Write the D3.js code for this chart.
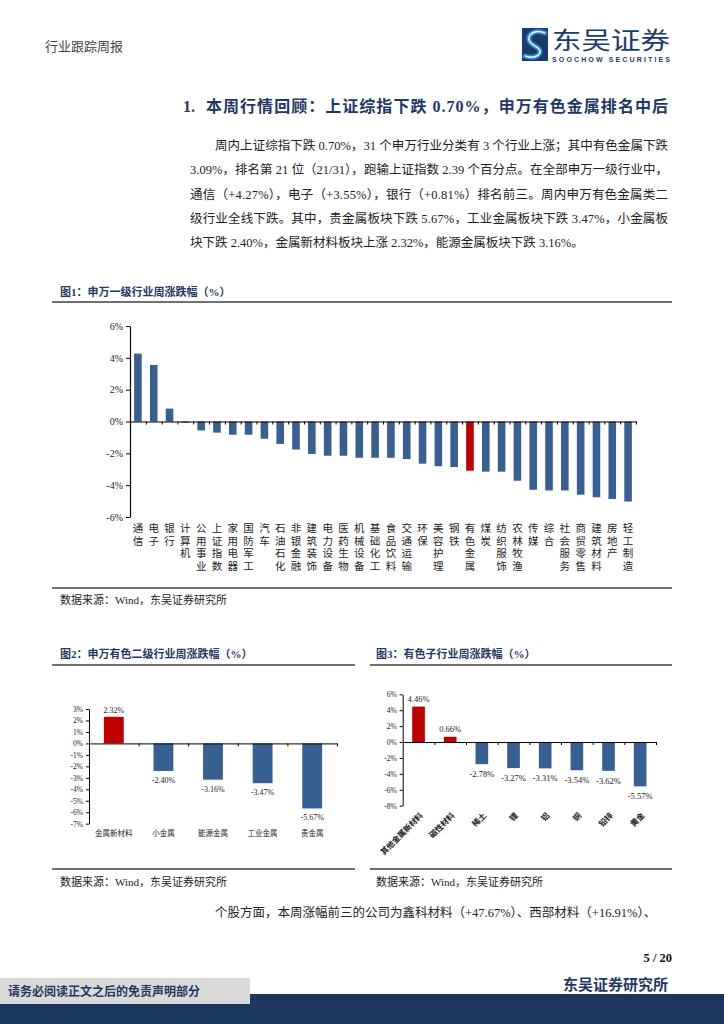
<!DOCTYPE html>
<html><head><meta charset="utf-8">
<script src="https://cdn.jsdelivr.net/npm/d3@7"></script>
<style>
body{margin:0;background:#fff;}
svg{display:block;}
</style></head>
<body>
<svg id="page" width="724" height="1024" font-family="'Liberation Serif','Noto Sans CJK SC',serif"></svg>
<script>
// ---------- DATA ----------
const fig1Categories = ["通信","电子","银行","计算机","公用事业","上证指数","家用电器","国防军工","汽车","石油石化","非银金融","建筑装饰","电力设备","医药生物","机械设备","基础化工","食品饮料","交通运输","环保","美容护理","钢铁","有色金属","煤炭","纺织服饰","农林牧渔","传媒","综合","社会服务","商贸零售","建筑材料","房地产","轻工制造"];
const fig1Values = [4.27,3.55,0.81,-0.08,-0.56,-0.70,-0.83,-0.83,-1.08,-1.41,-1.76,-2.04,-2.15,-2.15,-2.28,-2.28,-2.28,-2.36,-2.65,-2.81,-2.86,-3.09,-3.15,-3.15,-3.72,-4.29,-4.33,-4.33,-4.60,-4.76,-4.87,-5.03];
const fig1Highlight = "有色金属";
const fig1Ticks = [6,4,2,0,-2,-4,-6];

const fig2Categories = ["金属新材料","小金属","能源金属","工业金属","贵金属"];
const fig2Values = [2.32,-2.40,-3.16,-3.47,-5.67];
const fig2Ticks = [3,2,1,0,-1,-2,-3,-4,-5,-6,-7];

const fig3Categories = ["其他金属新材料","磁性材料","稀土","锂","铝","铜","铅锌","黄金"];
const fig3Values = [4.46,0.66,-2.78,-3.27,-3.31,-3.54,-3.62,-5.57];
const fig3Ticks = [6,4,2,0,-2,-4,-6,-8];

const paragraphLines = [
  "周内上证综指下跌 0.70%，31 个申万行业分类有 3 个行业上涨；其中有色金属下跌",
  "3.09%，排名第 21 位（21/31），跑输上证指数 2.39 个百分点。在全部申万一级行业中，",
  "通信（+4.27%），电子（+3.55%），银行（+0.81%）排名前三。周内申万有色金属类二",
  "级行业全线下跌。其中，贵金属板块下跌 5.67%，工业金属板块下跌 3.47%，小金属板",
  "块下跌 2.40%，金属新材料板块上涨 2.32%，能源金属板块下跌 3.16%。"
];

// ---------- STYLE ----------
const NAVY = "#1f3864";
const BLUE = "#375f92";
const RED = "#c00000";
const CJK = "'Noto Sans CJK SC'";
const SERIF = "'Liberation Serif','Noto Sans CJK SC',serif";

const svg = d3.select("#page");

// ---------- HEADER ----------
svg.append("text").attr("x",45).attr("y",51).attr("font-size",13).attr("fill","#444")
  .text("行业跟踪周报");
// logo
const logo = svg.append("g");
logo.append("rect").attr("x",522).attr("y",28).attr("width",26).attr("height",33).attr("fill","#1b3a6e");
const sPath = "M545,33 C532,28 524,38 532,44 L538,48 C544,53 536,60 525,56";
logo.append("path").attr("d",sPath).attr("fill","none").attr("stroke","#2a8ad0").attr("stroke-width",5).attr("stroke-linecap","round");
logo.append("path").attr("d",sPath).attr("fill","none").attr("stroke","#fff").attr("stroke-width",1.4);
svg.append("text").attr("x",552).attr("y",49).attr("font-size",24).attr("fill","#1b3a6e")
  .attr("font-family",CJK).attr("textLength",118).attr("lengthAdjust","spacingAndGlyphs").text("东吴证券");
svg.append("text").attr("x",552).attr("y",61.5).attr("font-size",7).attr("font-weight","bold").attr("fill","#1b3a6e")
  .attr("font-family","'Liberation Sans',sans-serif").attr("textLength",118).attr("lengthAdjust","spacing").text("SOOCHOW SECURITIES");

// ---------- SECTION TITLE ----------
svg.append("text").attr("x",183).attr("y",112).attr("font-size",16).attr("font-weight","bold").attr("fill",NAVY).text("1.");
svg.append("text").attr("x",206).attr("y",112).attr("font-size",16).attr("font-weight","bold").attr("fill",NAVY)
  .attr("textLength",462).attr("lengthAdjust","spacing")
  .text("本周行情回顾：上证综指下跌 0.70%，申万有色金属排名中后");

// ---------- PARAGRAPH ----------
paragraphLines.forEach((ln,i)=>{
  const x0 = i===0 ? 215 : 190;
  const t = svg.append("text").attr("x",x0).attr("y",150+i*24.3).attr("font-size",12.5).attr("fill","#222").text(ln);
  if(i<4) t.attr("textLength",668-x0).attr("lengthAdjust","spacing");
});

// ---------- helpers ----------
function figTitle(x,y,txt,x1,x2,ly){
  svg.append("text").attr("x",x).attr("y",y).attr("font-size",11).attr("font-weight","bold").attr("fill",NAVY).text(txt);
  svg.append("line").attr("x1",x1).attr("x2",x2).attr("y1",ly).attr("y2",ly).attr("stroke","#404040").attr("stroke-width",1.6);
}
function source(x,y,x1,x2,ly){
  svg.append("line").attr("x1",x1).attr("x2",x2).attr("y1",ly).attr("y2",ly).attr("stroke","#404040").attr("stroke-width",1.6);
  svg.append("text").attr("x",x).attr("y",y).attr("font-size",11).attr("fill","#222").text("数据来源：Wind，东吴证券研究所");
}
const pct = d=>d+"%";

// ---------- FIGURE 1 ----------
figTitle(60,296,"图1：申万一级行业周涨跌幅（%）",52,672,302);
{
  const x = d3.scaleBand().domain(fig1Categories).range([130,636]).paddingInner(0.52).paddingOuter(0.26);
  const y = d3.scaleLinear().domain([-6,6]).range([517,326]);
  const g = svg.append("g");
  g.selectAll("rect").data(fig1Categories).join("rect")
    .attr("x",d=>x(d)).attr("width",x.bandwidth())
    .attr("y",(d,i)=>y(Math.max(0,fig1Values[i])))
    .attr("height",(d,i)=>Math.abs(y(fig1Values[i])-y(0)))
    .attr("fill",d=>d===fig1Highlight?RED:BLUE);
  const ya = g.append("g").attr("transform","translate(130,0)")
    .call(d3.axisLeft(y).tickValues(fig1Ticks).tickFormat(pct).tickSize(4).tickSizeOuter(0));
  ya.select(".domain").attr("stroke","#000").attr("stroke-width",1.2);
  ya.selectAll("text").attr("font-size",10).attr("fill","#222").attr("font-family",SERIF);
  const bounds = d3.range(1,fig1Categories.length+1).map(i=>130+i*(506/fig1Categories.length));
  const xb = d3.scaleLinear().domain([130,636]).range([130,636]);
  const xa = g.append("g").attr("transform",`translate(0,${y(0)})`)
    .call(d3.axisBottom(xb).tickValues(bounds).tickSize(3).tickSizeOuter(0).tickFormat(""));
  xa.select(".domain").attr("stroke","#000").attr("stroke-width",1.2);
  // vertical stacked labels (one character per row)
  fig1Categories.forEach(c=>{
    const cx = x(c)+x.bandwidth()/2;
    const lg = g.append("g").attr("class","xlab");
    Array.from(c).forEach((ch,k)=>{
      lg.append("text").attr("x",cx).attr("y",532+k*12.6).attr("font-size",10.5).attr("fill","#222")
        .attr("text-anchor","middle").attr("font-family",SERIF).text(ch);
    });
  });
}
source(60,604,52,672,588);

// ---------- FIGURE 2 ----------
figTitle(60,658,"图2：申万有色二级行业周涨跌幅（%）",52,355,665);
{
  const x = d3.scaleBand().domain(fig2Categories).range([89,337]).paddingInner(0.6).paddingOuter(0.3);
  const y = d3.scaleLinear().domain([-7,3]).range([823.7,709]);
  const g = svg.append("g");
  g.selectAll("rect").data(fig2Categories).join("rect")
    .attr("x",d=>x(d)).attr("width",x.bandwidth())
    .attr("y",(d,i)=>y(Math.max(0,fig2Values[i])))
    .attr("height",(d,i)=>Math.abs(y(fig2Values[i])-y(0)))
    .attr("fill",(d,i)=>fig2Values[i]>=0?RED:BLUE);
  const ya = g.append("g").attr("transform","translate(89,0)")
    .call(d3.axisLeft(y).tickValues(fig2Ticks).tickFormat(pct).tickSize(3).tickSizeOuter(0));
  ya.select(".domain").attr("stroke","#000");
  ya.selectAll("text").attr("font-size",7.5).attr("fill","#222").attr("font-family",SERIF);
  const bounds = d3.range(1,fig2Categories.length+1).map(i=>89+i*(248/fig2Categories.length));
  const xb = d3.scaleLinear().domain([89,337]).range([89,337]);
  const xa = g.append("g").attr("transform",`translate(0,${y(0)})`)
    .call(d3.axisBottom(xb).tickValues(bounds).tickSize(3).tickSizeOuter(0).tickFormat(""));
  xa.select(".domain").attr("stroke","#000");
  g.selectAll(".vl").data(fig2Categories).join("text").attr("class","vl")
    .attr("x",d=>x(d)+x.bandwidth()/2)
    .attr("y",(d,i)=>fig2Values[i]>=0? y(fig2Values[i])-4 : y(fig2Values[i])+12)
    .attr("text-anchor","middle").attr("font-size",8).attr("fill","#222")
    .text((d,i)=>fig2Values[i].toFixed(2)+"%");
  g.selectAll(".cl").data(fig2Categories).join("text").attr("class","cl")
    .attr("x",d=>x(d)+x.bandwidth()/2).attr("y",836)
    .attr("text-anchor","middle").attr("font-size",7.5).attr("fill","#222").attr("font-family",CJK)
    .text(d=>d);
}
source(60,886,52,355,869);

// ---------- FIGURE 3 ----------
figTitle(376,658,"图3：有色子行业周涨跌幅（%）",370,672,665);
{
  const x = d3.scaleBand().domain(fig3Categories).range([402.7,656]).paddingInner(0.6).paddingOuter(0.3);
  const y = d3.scaleLinear().domain([-8,6]).range([805.7,694.3]);
  const g = svg.append("g");
  g.selectAll("rect").data(fig3Categories).join("rect")
    .attr("x",d=>x(d)).attr("width",x.bandwidth())
    .attr("y",(d,i)=>y(Math.max(0,fig3Values[i])))
    .attr("height",(d,i)=>Math.abs(y(fig3Values[i])-y(0)))
    .attr("fill",(d,i)=>fig3Values[i]>=0?RED:BLUE);
  const ya = g.append("g").attr("transform","translate(402.7,0)")
    .call(d3.axisLeft(y).tickValues(fig3Ticks).tickFormat(pct).tickSize(3).tickSizeOuter(0));
  ya.select(".domain").attr("stroke","#000");
  ya.selectAll("text").attr("font-size",7.5).attr("fill","#222").attr("font-family",SERIF);
  const bounds = d3.range(1,fig3Categories.length+1).map(i=>402.7+i*(253.3/fig3Categories.length));
  const xb = d3.scaleLinear().domain([402.7,656]).range([402.7,656]);
  const xa = g.append("g").attr("transform",`translate(0,${y(0)})`)
    .call(d3.axisBottom(xb).tickValues(bounds).tickSize(3).tickSizeOuter(0).tickFormat(""));
  xa.select(".domain").attr("stroke","#000");
  g.selectAll(".vl").data(fig3Categories).join("text").attr("class","vl")
    .attr("x",d=>x(d)+x.bandwidth()/2)
    .attr("y",(d,i)=>fig3Values[i]>=0? y(fig3Values[i])-5 : y(fig3Values[i])+13)
    .attr("text-anchor","middle").attr("font-size",8.5).attr("fill","#222")
    .text((d,i)=>fig3Values[i].toFixed(2)+"%");
  g.selectAll(".cl").data(fig3Categories).join("text").attr("class","cl")
    .attr("transform",d=>`translate(${x(d)+x.bandwidth()/2+3},814) rotate(-45)`)
    .attr("text-anchor","end").attr("dy","0.35em").attr("font-size",8).attr("font-weight","bold")
    .attr("fill","#222").attr("font-family",CJK)
    .text(d=>d);
}
source(376,886,370,672,869);

// ---------- continuing text ----------
svg.append("text").attr("x",215).attr("y",917).attr("font-size",12.5).attr("fill","#222")
  .text("个股方面，本周涨幅前三的公司为鑫科材料（+47.67%）、西部材料（+16.91%）、");

// ---------- FOOTER ----------
svg.append("text").attr("x",672).attr("y",962).attr("text-anchor","end").attr("font-size",12.5).attr("font-weight","bold").attr("fill","#111").text("5 / 20");
svg.append("rect").attr("x",0).attr("y",994).attr("width",724).attr("height",30).attr("fill","#1b375e");
svg.append("rect").attr("x",0).attr("y",978).attr("width",250).attr("height",26).attr("fill","#d9d9d9");
svg.append("text").attr("x",8).attr("y",996).attr("font-size",12).attr("font-weight","bold").attr("fill",NAVY).text("请务必阅读正文之后的免责声明部分");
svg.append("text").attr("x",668).attr("y",990).attr("text-anchor","end").attr("font-size",15).attr("font-weight","bold").attr("fill",NAVY).text("东吴证券研究所");
</script>
</body></html>
